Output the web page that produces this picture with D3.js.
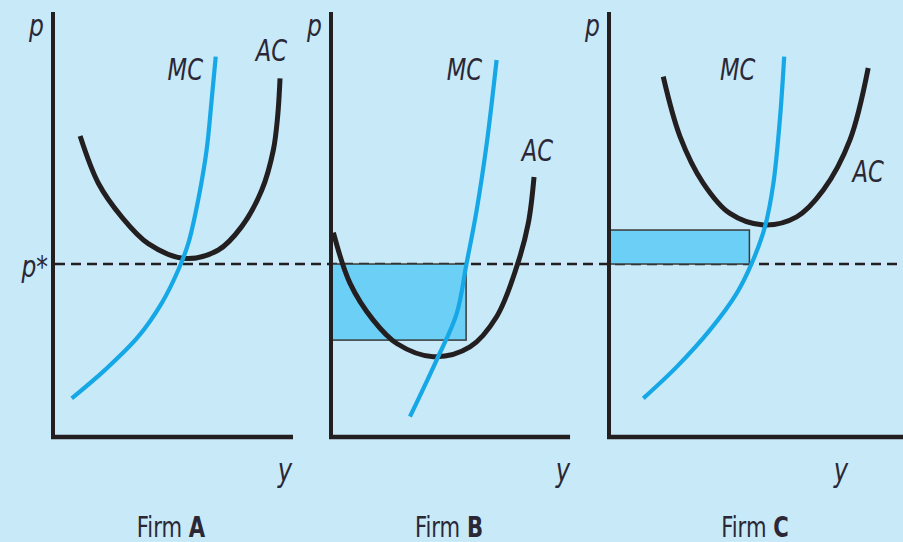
<!DOCTYPE html>
<html lang="en">
<head>
  <meta charset="UTF-8">
  <title>Firms A, B, C - MC and AC</title>
  <script src="https://d3js.org/d3.v7.min.js"></script>
  <style>
    body { margin: 0; background: #c7e9f8; }
    svg { display: block; }
    .lbl { font-family: "DejaVu Sans Condensed", sans-serif; fill: #2b2735; }
    .it { font-style: italic; }
  </style>
</head>
<body>
  <div id="chart"></div>
  <script>
    const W = 903, H = 542;

    // price at which the market clears (dashed line)
    const pStar = 40.7;

    // quantity (y) and price (p) readings for each firm
    const firms = ["A", "B", "C"];
    const mcA = [[7.8, 9.1], [21.7, 15.8], [35.5, 23.6], [45.3, 31.5], [52.2, 39.3], [56.4, 45.6], [60.5, 55.8], [64, 67.5], [66.1, 79.3], [67.8, 89.5]];
    const acA = [[11.3, 70.8], [18.9, 59.7], [28.6, 51.8], [39.7, 45.5], [55, 42], [68.9, 44], [78.6, 49.5], [87, 58.1], [91.8, 67.5], [93.6, 75.4], [94.6, 84.4]];
    const mcB = [[32.9, 4.8], [44, 18.1], [52.4, 29.1], [56.5, 40.9], [60.7, 53.4], [64.9, 69.1], [69, 88.7]];
    const acB = [[1, 48.1], [7.9, 36.2], [17.6, 27.5], [27.4, 22], [42.6, 18.9], [57.9, 21.2], [69, 28.3], [77.4, 40.1], [82.2, 50.3], [84.6, 61.2]];
    const mcC = [[14.3, 9.1], [28.2, 16.5], [42.1, 25.2], [53.2, 33.8], [59.5, 40.9], [65, 49.5], [68.5, 59.7], [71.3, 75.4], [73, 89.5]];
    const acC = [[22.6, 84.8], [29.6, 70.7], [39.3, 59.7], [50.4, 52.6], [64.3, 49.9], [78.2, 51.8], [89.3, 58.1], [100.4, 69.9], [108, 86.8]];
    // profit / loss rectangles: [quantity, lower price, upper price]
    const rectB = [56.3, 22.8, pStar];
    const rectC = [58.5, pStar, 48.7];
    // axis length (quantity) for each panel
    const axisEnd = [100, 99.6, 122.5];
    // label anchors [q, p]
    const mcLabelAt = [[62.5, 84], [63, 84], [61, 84]];
    const acLabelAt = [[97.5, 88.5], [92.5, 65], [114.5, 60]];

    const panels = [
      { name: firms[0], mc: mcA, ac: acA, rect: null, x0: 53 },
      { name: firms[1], mc: mcB, ac: acB, rect: rectB, x0: 331 },
      { name: firms[2], mc: mcC, ac: acC, rect: rectC, x0: 609 }
    ];

    const y = d3.scaleLinear().domain([0, 100]).range([437, 12]);

    const svg = d3.select("#chart").append("svg")
      .attr("width", W)
      .attr("height", H);

    svg.append("rect").attr("width", W).attr("height", H).attr("fill", "#c7e9f8");

    const line = (x) => d3.line()
      .x(d => x(d[0]))
      .y(d => y(d[1]))
      .curve(d3.curveCatmullRom.alpha(0.5));

    // condensed text: squeeze horizontally like the book's narrow face
    function label(parent, tx, ty, size, anchor, cls) {
      return parent.append("g")
        .attr("transform", `translate(${tx},${ty}) scale(0.84,1)`)
        .append("text")
        .attr("class", cls)
        .attr("text-anchor", anchor)
        .style("font-size", size + "px");
    }

    // dashed p* line across all panels
    svg.append("line")
      .attr("x1", panels[0].x0 + 2).attr("x2", W)
      .attr("y1", y(pStar)).attr("y2", y(pStar))
      .attr("stroke", "#231f20")
      .attr("stroke-width", 2.5)
      .attr("stroke-dasharray", "10,6");

    panels.forEach((pn, i) => {
      const x = d3.scaleLinear().domain([0, 100]).range([pn.x0, pn.x0 + 240]);
      const g = svg.append("g");

      if (pn.rect) {
        g.append("rect")
          .attr("x", x(0))
          .attr("y", y(pn.rect[2]))
          .attr("width", x(pn.rect[0]) - x(0))
          .attr("height", y(pn.rect[1]) - y(pn.rect[2]))
          .attr("fill", "#6bcff6")
          .attr("stroke", "#3a3a3a")
          .attr("stroke-width", 1.5);
      }

      // axes
      g.append("line")
        .attr("x1", x(0)).attr("x2", x(0))
        .attr("y1", y(100)).attr("y2", y(0) + 2)
        .attr("stroke", "#231f20").attr("stroke-width", 4);
      g.append("line")
        .attr("x1", x(0) - 2).attr("x2", x(axisEnd[i]))
        .attr("y1", y(0)).attr("y2", y(0))
        .attr("stroke", "#231f20").attr("stroke-width", 4.5);

      // AC and MC curves
      g.append("path")
        .datum(pn.ac)
        .attr("d", line(x))
        .attr("fill", "none")
        .attr("stroke", "#231f20")
        .attr("stroke-width", 5);
      g.append("path")
        .datum(pn.mc)
        .attr("d", line(x))
        .attr("fill", "none")
        .attr("stroke", "#16a8e6")
        .attr("stroke-width", 4.2);

      // labels
      label(g, x(mcLabelAt[i][0]), y(mcLabelAt[i][1]), 30, "end", "lbl it").text("MC");
      label(g, x(acLabelAt[i][0]), y(acLabelAt[i][1]), 30, "end", "lbl it").text("AC");
      label(g, x(0) - 9, 36, 31, "end", "lbl it").text("p");
      label(g, pn.x0 + 239, 481, 32, "end", "lbl it").text("y");
      const t = label(g, [171, 449, 755][i], 537, 28, "middle", "lbl");
      t.append("tspan").text("Firm ");
      t.append("tspan").attr("font-weight", "bold").text(pn.name);
    });

    label(svg, 48, y(pStar) + 13, 31, "end", "lbl it").text("p*");
  </script>
</body>
</html>
